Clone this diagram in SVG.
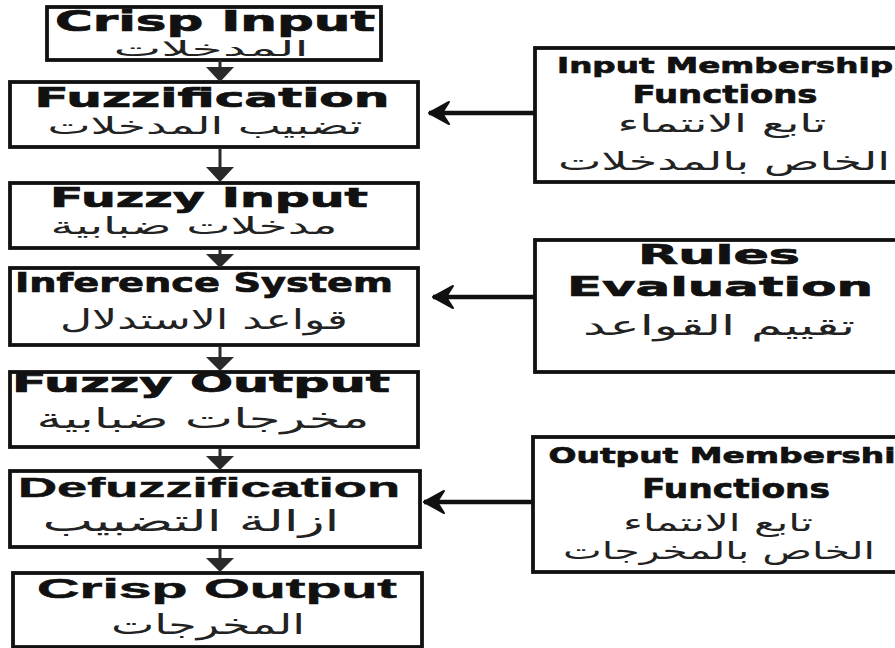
<svg xmlns="http://www.w3.org/2000/svg" width="895" height="648" viewBox="0 0 895 648">
  <defs>
    <marker id="left" markerUnits="userSpaceOnUse" markerWidth="26" markerHeight="26" viewBox="-22 -13 24 26" refX="0" refY="0" orient="auto">
      <path d="M0,0 L-20,-11 L-13,0 L-20,11 Z" fill="#111" stroke="#111" stroke-width="2" stroke-linejoin="round"/>
    </marker>
    <style>
      .box { fill: #fff; stroke: #111; stroke-width: 3.8; }
      .en { font-family: "DejaVu Sans", "Liberation Sans", sans-serif; font-weight: bold; fill: #111; stroke: #111; stroke-width: 0.7; text-anchor: middle; }
      .en2 { font-family: "Liberation Sans", "DejaVu Sans", sans-serif; font-weight: bold; fill: #111; stroke: #111; stroke-width: 0.5; text-anchor: middle; }
      .ar { font-family: "DejaVu Sans", sans-serif; font-weight: normal; fill: #222; text-anchor: middle; }
      .vline { stroke: #2a2a2a; stroke-width: 3; fill: none; }
      .head { fill: #2a2a2a; }
      .hline { stroke: #111; stroke-width: 4.5; fill: none; }
    </style>
  </defs>
  <rect width="895" height="648" fill="#fff"/>

  <g id="crisp-input">
    <rect class="box" x="47" y="7" width="334" height="53"/>
    <text class="en" x="215" y="31" font-size="28" textLength="320" lengthAdjust="spacingAndGlyphs">Crisp Input</text>
    <text class="ar" x="211" y="56" font-size="21" textLength="195" lengthAdjust="spacingAndGlyphs">المدخلات</text>
  </g>

  <g id="fuzzification">
    <rect class="box" x="10" y="82" width="408" height="65"/>
    <text class="en" x="212" y="107" font-size="26" textLength="355" lengthAdjust="spacingAndGlyphs">Fuzzification</text>
    <text class="ar" x="205" y="134" font-size="24" textLength="315" lengthAdjust="spacingAndGlyphs">تضبيب المدخلات</text>
  </g>

  <g id="fuzzy-input">
    <rect class="box" x="10" y="183" width="408" height="65"/>
    <text class="en" x="209" y="207" font-size="26" textLength="318" lengthAdjust="spacingAndGlyphs">Fuzzy Input</text>
    <text class="ar" x="194" y="234" font-size="24" textLength="287" lengthAdjust="spacingAndGlyphs">مدخلات ضبابية</text>
  </g>

  <g id="inference-system">
    <rect class="box" x="10" y="268" width="408" height="77"/>
    <text class="en" x="204" y="292" font-size="26" textLength="378" lengthAdjust="spacingAndGlyphs">Inference System</text>
    <text class="ar" x="204" y="329" font-size="27" textLength="288" lengthAdjust="spacingAndGlyphs">قواعد الاستدلال</text>
  </g>

  <g id="fuzzy-output">
    <rect class="box" x="10" y="372" width="408" height="75"/>
    <text class="en" x="201" y="392" font-size="26" textLength="378" lengthAdjust="spacingAndGlyphs">Fuzzy Output</text>
    <text class="ar" x="203" y="428" font-size="27" textLength="333" lengthAdjust="spacingAndGlyphs">مخرجات ضبابية</text>
  </g>

  <g id="defuzzification">
    <rect class="box" x="10" y="471" width="410" height="76"/>
    <text class="en2" x="209" y="497" font-size="28" textLength="382" lengthAdjust="spacingAndGlyphs">Defuzzification</text>
    <text class="ar" x="191" y="531" font-size="29" textLength="297" lengthAdjust="spacingAndGlyphs">ازالة التضبيب</text>
  </g>

  <g id="crisp-output">
    <rect class="box" x="13" y="573" width="409" height="74"/>
    <text class="en2" x="217" y="598" font-size="27" textLength="360" lengthAdjust="spacingAndGlyphs">Crisp Output</text>
    <text class="ar" x="208" y="634" font-size="27" textLength="194" lengthAdjust="spacingAndGlyphs">المخرجات</text>
  </g>

  <g id="input-membership">
    <rect class="box" x="535" y="48" width="370" height="134"/>
    <text class="en" x="725" y="73" font-size="22" textLength="336" lengthAdjust="spacingAndGlyphs">Input Membership</text>
    <text class="en" x="725" y="103" font-size="25" textLength="185" lengthAdjust="spacingAndGlyphs">Functions</text>
    <text class="ar" x="722" y="132" font-size="25" textLength="209" lengthAdjust="spacingAndGlyphs">تابع الانتماء</text>
    <text class="ar" x="724" y="170" font-size="25" textLength="332" lengthAdjust="spacingAndGlyphs">الخاص بالمدخلات</text>
  </g>

  <g id="rules-evaluation">
    <rect class="box" x="535" y="240" width="370" height="132"/>
    <text class="en" x="719" y="264" font-size="26" textLength="162" lengthAdjust="spacingAndGlyphs">Rules</text>
    <text class="en" x="720" y="296" font-size="27" textLength="306" lengthAdjust="spacingAndGlyphs">Evaluation</text>
    <text class="ar" x="719" y="335" font-size="27" textLength="272" lengthAdjust="spacingAndGlyphs">تقييم القواعد</text>
  </g>

  <g id="output-membership">
    <rect class="box" x="533" y="437" width="372" height="135"/>
    <text class="en" x="722" y="463" font-size="22" textLength="347" lengthAdjust="spacingAndGlyphs">Output Membershi</text>
    <text class="en" x="736" y="498" font-size="27" textLength="188" lengthAdjust="spacingAndGlyphs">Functions</text>
    <text class="ar" x="718" y="531" font-size="24" textLength="190" lengthAdjust="spacingAndGlyphs">تابع الانتماء</text>
    <text class="ar" x="719" y="559" font-size="24" textLength="312" lengthAdjust="spacingAndGlyphs">الخاص بالمخرجات</text>
  </g>

  <g id="connectors">
    <line class="vline" x1="220" y1="60" x2="220" y2="69"/>
    <polygon class="head" points="206,67 234,67 220,82"/>
    <line class="vline" x1="220" y1="148" x2="220" y2="169"/>
    <polygon class="head" points="206,167 234,167 220,182"/>
    <line class="vline" x1="220" y1="249" x2="220" y2="256"/>
    <polygon class="head" points="206,254 234,254 220,268"/>
    <line class="vline" x1="220" y1="346" x2="220" y2="359"/>
    <polygon class="head" points="206,357 234,357 220,371"/>
    <line class="vline" x1="220" y1="448" x2="220" y2="458"/>
    <polygon class="head" points="206,456 234,456 220,470"/>
    <line class="vline" x1="220" y1="548" x2="220" y2="560"/>
    <polygon class="head" points="206,558 234,558 220,572"/>
    <line class="hline" x1="535" y1="113" x2="429" y2="113" marker-end="url(#left)"/>
    <line class="hline" x1="535" y1="297" x2="433" y2="297" marker-end="url(#left)"/>
    <line class="hline" x1="533" y1="502" x2="424" y2="502" marker-end="url(#left)"/>
  </g>
</svg>
